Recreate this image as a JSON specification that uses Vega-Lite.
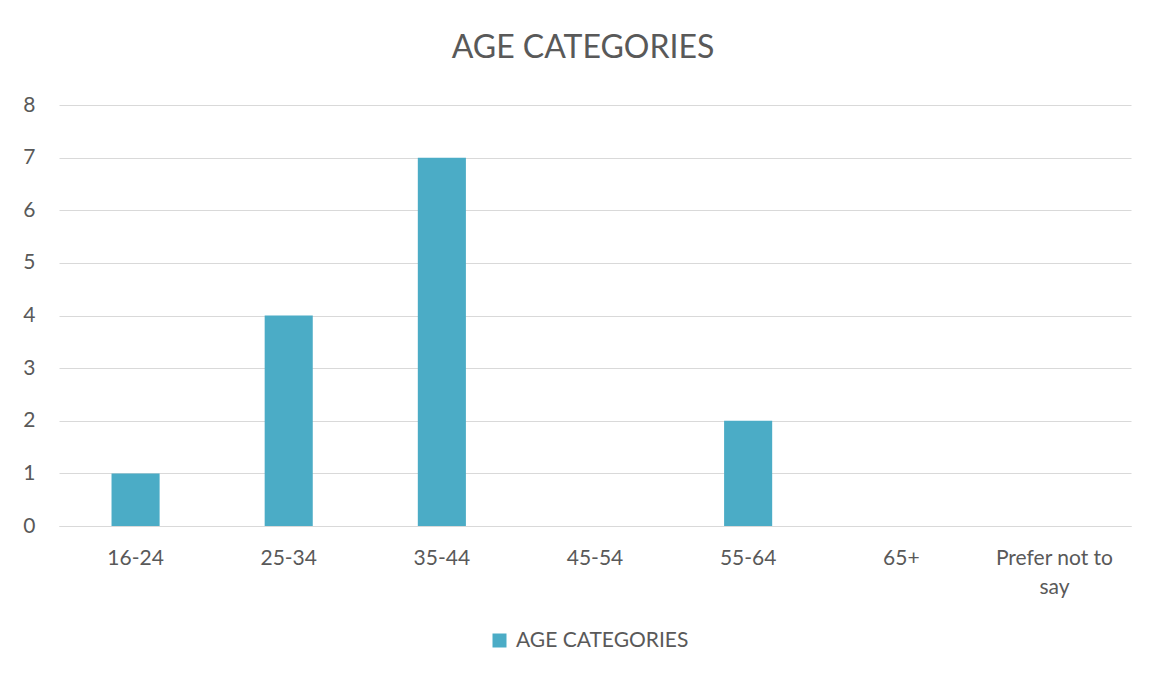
{
  "$schema": "https://vega.github.io/schema/vega-lite/v6.json",
  "autosize": {"type": "none"},
  "width": 1072,
  "height": 421,
  "padding": {"left": 59, "top": 105, "right": 18, "bottom": 149},
  "background": "white",
  "title": {
    "text": "AGE CATEGORIES",
    "font": "Lato",
    "fontSize": 32,
    "fontWeight": "normal",
    "color": "#595959",
    "anchor": "middle",
    "offset": 29,
    "dx": -12
  },
  "data": {
    "values": [
      {"category": "16-24", "count": 1, "series": "AGE CATEGORIES"},
      {"category": "25-34", "count": 4, "series": "AGE CATEGORIES"},
      {"category": "35-44", "count": 7, "series": "AGE CATEGORIES"},
      {"category": "45-54", "count": 0, "series": "AGE CATEGORIES"},
      {"category": "55-64", "count": 2, "series": "AGE CATEGORIES"},
      {"category": "65+", "count": 0, "series": "AGE CATEGORIES"},
      {"category": "Prefer not to say", "count": 0, "series": "AGE CATEGORIES"}
    ]
  },
  "mark": {"type": "bar"},
  "encoding": {
    "x": {
      "field": "category",
      "type": "nominal",
      "sort": null,
      "scale": {"paddingInner": 0.686, "paddingOuter": 0.343},
      "axis": {
        "title": null,
        "labelAngle": 0,
        "ticks": false,
        "tickSize": 0,
        "domainColor": "#d9d9d9",
        "domainWidth": 1,
        "labelFont": "Lato",
        "labelFontSize": 21,
        "labelColor": "#595959",
        "labelPadding": 21,
        "labelLineHeight": 29,
        "labelExpr": "datum.label == 'Prefer not to say' ? ['Prefer not to', 'say'] : datum.label"
      }
    },
    "y": {
      "field": "count",
      "type": "quantitative",
      "scale": {"domain": [0, 8], "nice": false},
      "axis": {
        "title": null,
        "values": [0, 1, 2, 3, 4, 5, 6, 7, 8],
        "ticks": false,
        "tickSize": 0,
        "domain": false,
        "gridColor": "#d9d9d9",
        "gridWidth": 1,
        "labelFont": "Lato",
        "labelFontSize": 21,
        "labelColor": "#595959",
        "labelPadding": 24
      }
    },
    "color": {
      "field": "series",
      "type": "nominal",
      "scale": {"range": ["#4bacc6"]},
      "legend": {
        "title": null,
        "orient": "none",
        "legendX": 430,
        "legendY": 525,
        "padding": 0,
        "direction": "horizontal",
        "symbolType": "square",
        "symbolSize": 196,
        "symbolStrokeWidth": 0,
        "labelFont": "Lato",
        "labelFontSize": 21,
        "labelColor": "#595959",
        "labelOffset": 6,
        "labelLimit": 0
      }
    }
  },
  "config": {
    "view": {"stroke": null},
    "axis": {"gridColor": "#d9d9d9"}
  }
}
